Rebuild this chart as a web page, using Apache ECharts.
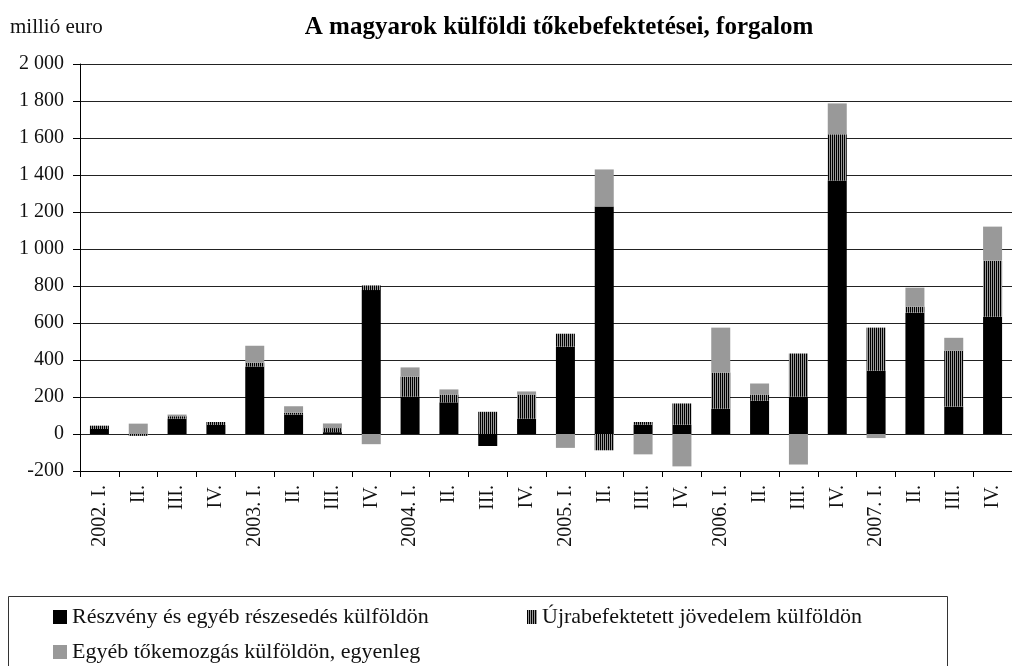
<!DOCTYPE html>
<html>
<head>
<meta charset="utf-8">
<script src="https://cdn.jsdelivr.net/npm/echarts@6/dist/echarts.min.js"></script>
<style>
html,body{margin:0;padding:0;background:#fff;}
#chart{width:1012px;height:666px;}
</style>
</head>
<body>
<div id="chart"></div>
<script>
const categories = ['2002. I.','II.','III.','IV.','2003. I.','II.','III.','IV.','2004. I.','II.','III.','IV.','2005. I.','II.','III.','IV.','2006. I.','II.','III.','IV.','2007. I.','II.','III.','IV.'];
const reszveny = [27, 0, 83, 49, 365, 105, 10, 778, 202, 171, -65, 83, 472, 1230, 50, 50, 137, 180, 202, 1370, 342, 656, 148, 634];
const ujrabefektetett = [18, -10, 13, 16, 20, 10, 22, 25, 108, 42, 120, 130, 70, -88, 15, 115, 195, 33, 233, 250, 233, 32, 302, 303];
const egyeb = [0, 56, 9, 0, 92, 35, 25, -55, 50, 28, 0, 17, -75, 200, -110, -175, 243, 60, -165, 167, -22, 103, 70, 184];
const seriesNames = ['Részvény és egyéb részesedés külföldön','Újrabefektetett jövedelem külföldön','Egyéb tőkemozgás külföldön, egyenleg'];
const yMin = -200, yMax = 2000, yStep = 200;

const pc = document.createElement('canvas');
pc.width = 2; pc.height = 2;
const pctx = pc.getContext('2d');
pctx.fillStyle = '#000'; pctx.fillRect(0,0,1,2);
pctx.fillStyle = '#9a9a9a'; pctx.fillRect(1,0,1,2);
const stripe = {image: pc, repeat: 'repeat'};

const FONT = '"Liberation Serif", "Times New Roman", serif';
const chart = echarts.init(document.getElementById('chart'));
const legendText = {fontFamily: FONT, fontSize: 22, color: '#111'};
chart.setOption({
  animation: false,
  backgroundColor: '#fff',
  title: [
    {text: 'millió euro', left: 10, top: 17, padding: 0, textStyle: {fontFamily: FONT, fontSize: 21, fontWeight: 'normal', color: '#111'}},
    {text: 'A magyarok külföldi tőkebefektetései, forgalom', left: 559, textAlign: 'center', top: 15, padding: 0, textStyle: {fontFamily: FONT, fontSize: 25, fontWeight: 'bold', color: '#000'}}
  ],
  grid: {left: 80, right: -7, top: 64, bottom: 195, containLabel: false},
  legend: [
    {data: [seriesNames[0]], left: 53, top: 606, padding: 0, icon: 'rect', itemWidth: 14, itemHeight: 14, itemGap: 0, textStyle: legendText},
    {data: [seriesNames[1]], left: 527, top: 606, padding: 0, icon: 'rect', itemWidth: 10, itemHeight: 14, itemGap: 0, textStyle: legendText},
    {data: [seriesNames[2]], left: 53, top: 641, padding: 0, icon: 'rect', itemWidth: 14, itemHeight: 14, itemGap: 0, textStyle: legendText}
  ],
  graphic: [
    {type: 'rect', shape: {x: 8.5, y: 596.5, width: 939, height: 100}, style: {fill: 'none', stroke: '#333', lineWidth: 1}, silent: true}
  ],
  xAxis: {
    type: 'category', data: categories, position: 'bottom',
    axisLine: {onZero: false, lineStyle: {color: '#000', width: 1}},
    axisTick: {show: true, length: 6, lineStyle: {color: '#000'}},
    axisLabel: {rotate: 90, interval: 0, margin: 14, fontFamily: FONT, fontSize: 20, color: '#111'}
  },
  yAxis: {
    type: 'value', min: yMin, max: yMax, interval: yStep,
    axisLine: {show: true, lineStyle: {color: '#000', width: 1}},
    axisTick: {show: true, length: 7, lineStyle: {color: '#000'}},
    axisLabel: {margin: 16, fontFamily: FONT, fontSize: 20, color: '#111',
      formatter: v => { const s = String(Math.abs(v)).replace(/\B(?=(\d{3})+(?!\d))/g, ' '); return (v < 0 ? '-' : '') + s; }},
    splitLine: {show: true, lineStyle: {color: '#222', width: 1}}
  },
  series: [
    {name: seriesNames[0], type: 'bar', stack: 'a', data: reszveny, barWidth: 19, itemStyle: {color: '#000'}},
    {name: seriesNames[1], type: 'bar', stack: 'a', data: ujrabefektetett, barWidth: 19, itemStyle: {color: stripe}},
    {name: seriesNames[2], type: 'bar', stack: 'a', data: egyeb, barWidth: 19, itemStyle: {color: '#999'}}
  ]
});
</script>
</body>
</html>
